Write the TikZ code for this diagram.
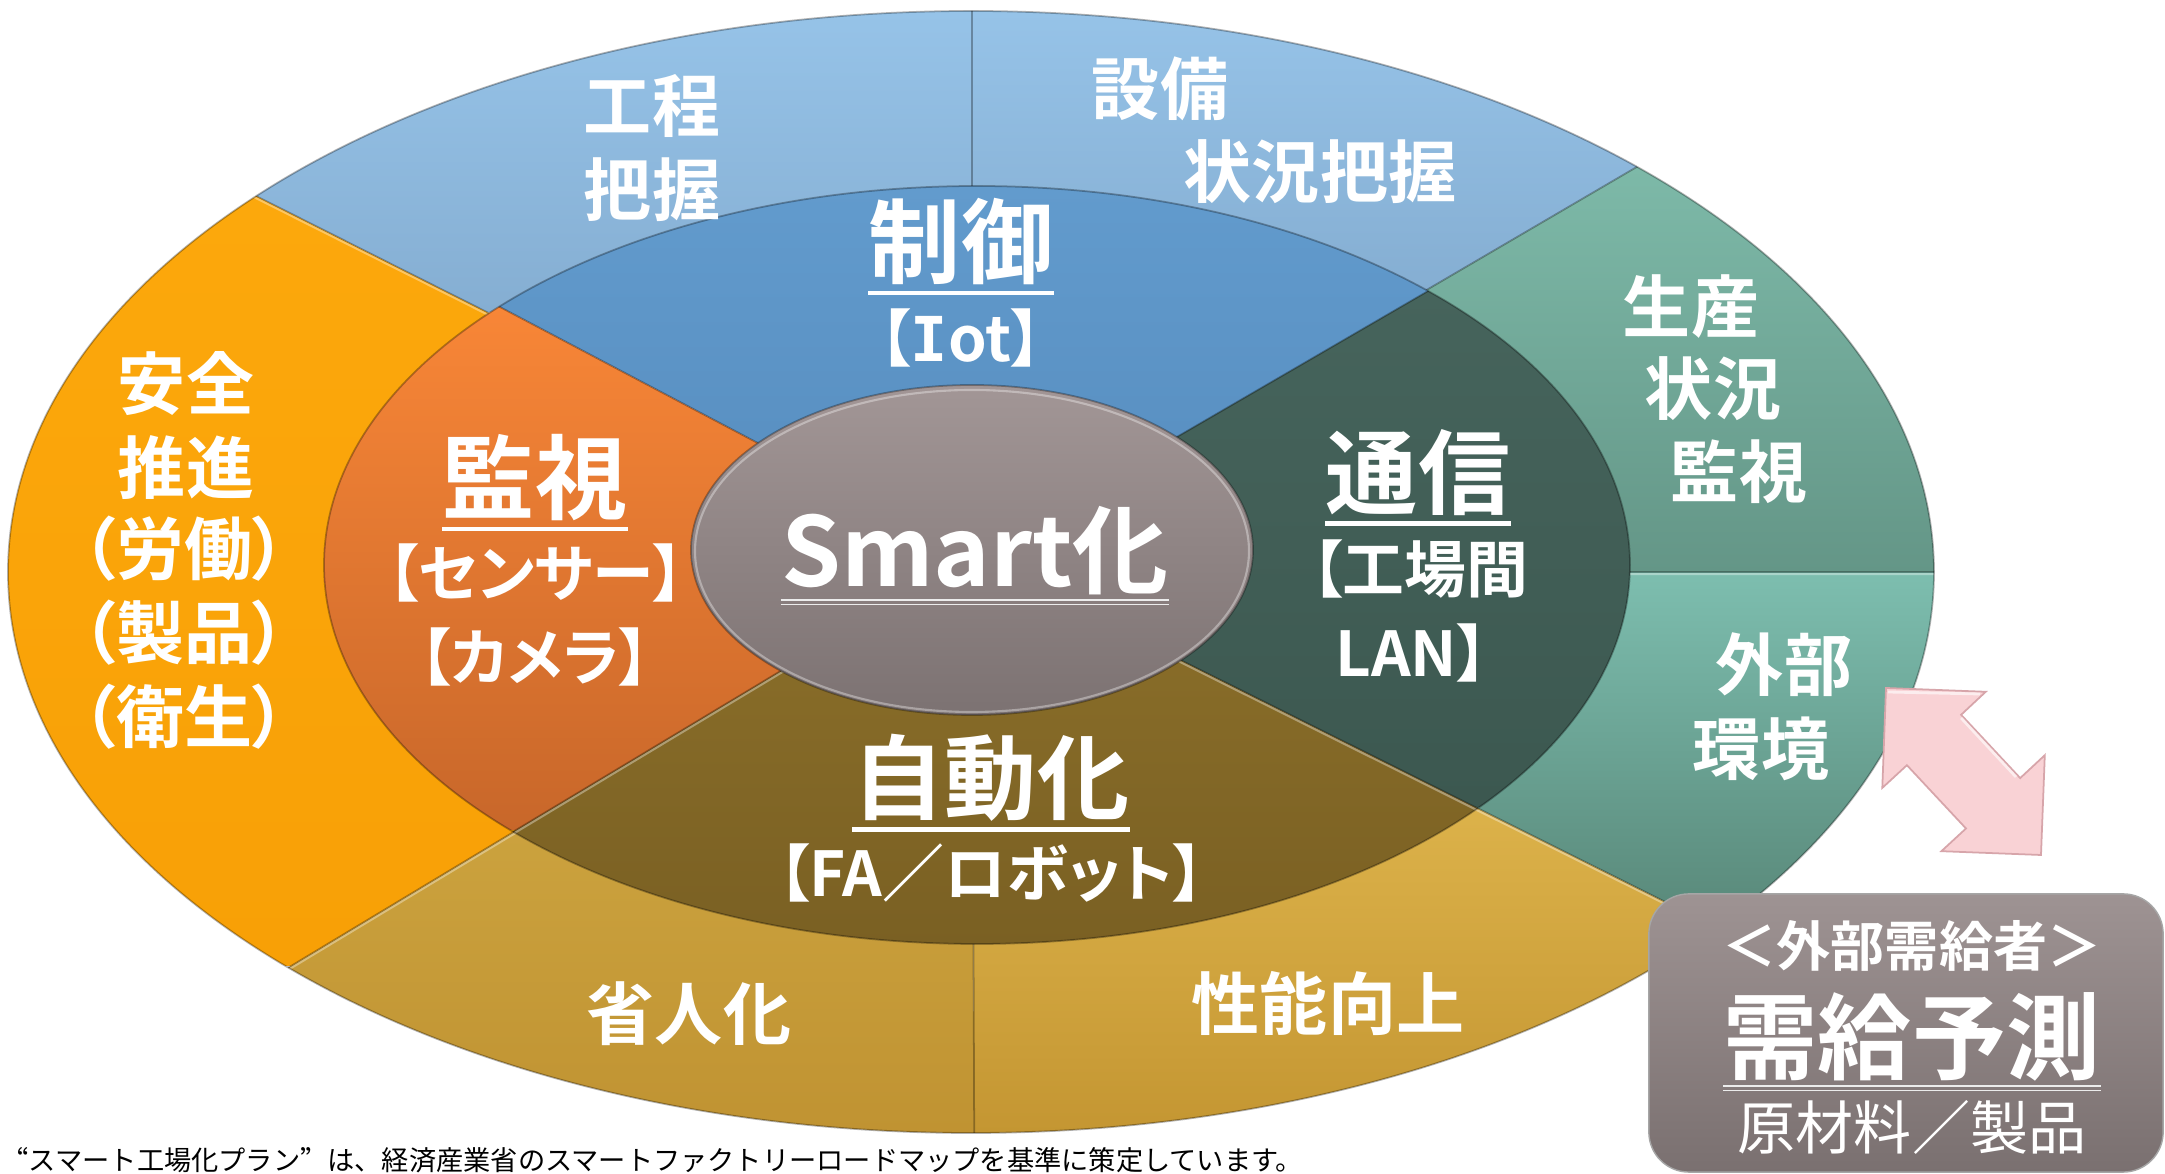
\documentclass[tikz,border=0pt]{standalone}
\usepackage{fontspec}
\newfontfamily\jp{Noto Sans CJK JP}[BoldFont={Noto Sans CJK JP Bold},RawFeature=+palt]
\newfontfamily\jpfw{Noto Sans CJK JP}[BoldFont={Noto Sans CJK JP Bold}]
\newfontfamily\jpnote{Noto Sans CJK JP}[RawFeature=+fwid]
\newfontfamily\serifI{DejaVu Sans Mono}[BoldFont={DejaVu Sans Mono Bold}]
\definecolor{lbTop}{RGB}{150,195,232}
\definecolor{lbBot}{RGB}{133,174,210}
\definecolor{tlTop}{RGB}{125,185,168}
\definecolor{tlBot}{RGB}{100,150,135}
\definecolor{teTop}{RGB}{125,190,175}
\definecolor{teBot}{RGB}{90,138,123}
\definecolor{gdTop}{RGB}{220,178,74}
\definecolor{gdBot}{RGB}{196,150,50}
\definecolor{gdbTop}{RGB}{203,162,62}
\definecolor{gdbBot}{RGB}{192,147,50}
\definecolor{orTop}{RGB}{252,168,12}
\definecolor{orBot}{RGB}{248,160,6}
\definecolor{bluTop}{RGB}{98,155,205}
\definecolor{bluBot}{RGB}{86,140,190}
\definecolor{dgTop}{RGB}{70,100,92}
\definecolor{dgBot}{RGB}{60,88,80}
\definecolor{brTop}{RGB}{140,112,42}
\definecolor{brBot}{RGB}{122,96,35}
\definecolor{mvTop}{RGB}{248,134,55}
\definecolor{mvBot}{RGB}{200,103,42}
\definecolor{smTop}{RGB}{162,150,150}
\definecolor{smBot}{RGB}{124,114,114}
\definecolor{bxTop}{RGB}{158,147,147}
\definecolor{bxBot}{RGB}{122,112,112}
\definecolor{pk}{RGB}{249,210,213}
\definecolor{pkEdge}{RGB}{215,165,170}
\newcommand\osector[5]{\begin{scope}\clip #1;\clip (971,572) ellipse [x radius=963, y radius=561];\shade[top color=#4,bottom color=#5] (-100,#2) rectangle (2300,#3);\end{scope}}
\newcommand\msector[5]{\begin{scope}\clip #1;\clip (977,565) ellipse [x radius=653, y radius=379];\shade[top color=#4,bottom color=#5] (-100,#2) rectangle (2300,#3);\end{scope}}
\begin{document}
\begin{tikzpicture}[x=0.01cm,y=-0.01cm,
  txt/.style={text=white, inner sep=0pt},
  ringtxt/.style={txt, font=\jp\bfseries\fontsize{19.35pt}{23pt}\selectfont},
  titletxt/.style={txt, font=\jp\bfseries\fontsize{26.2pt}{30pt}\selectfont},
  subtxt/.style={txt, font=\jp\bfseries\fontsize{17.6pt}{21pt}\selectfont},
  uline/.style={white, line width=1.4pt},
  dline/.style={white!85!gray, line width=0.55pt},
  edge/.style={draw=black, draw opacity=0.3, line width=0.5pt},
  hilite/.style={draw=white, draw opacity=0.35, line width=0.6pt}]
\useasboundingbox (0,0) rectangle (2165,1174);
\fill[white] (0,0) rectangle (2165,1174);
\coordinate (C) at (972,556);
\coordinate (oUL) at (-460,-164);
\coordinate (oUR) at (2298,-220);
\coordinate (oLR) at (2481,1309);
\coordinate (oLL) at (-390,1376);
\coordinate (mUL) at (-450,-194);
\coordinate (mUR) at (2361,-251);
\coordinate (mLR) at (2481,1309);
\coordinate (mLL) at (-396,1378);
% outer ring
\osector{(C) -- (oUL) -- (-460,-400) -- (972,-400) -- cycle}{11}{312}{lbTop}{lbBot}
\osector{(C) -- (972,-400) -- (2298,-400) -- (oUR) -- cycle}{11}{290}{lbTop}{lbBot}
\osector{(C) -- (oUR) -- (2600,-220) -- (2600,572) -- (1300,572) -- cycle}{168}{572}{tlTop}{tlBot}
\osector{(C) -- (1300,572) -- (2600,572) -- (2600,1309) -- (oLR) -- cycle}{572}{910}{teTop}{teBot}
\osector{(C) -- (oLR) -- (2481,1600) -- (976,1600) -- cycle}{807}{1133}{gdTop}{gdBot}
\osector{(C) -- (976,1600) -- (-390,1600) -- (oLL) -- cycle}{830}{1133}{gdbTop}{gdbBot}
\osector{(C) -- (oLL) -- (oUL) -- cycle}{196}{966}{orTop}{orBot}
\begin{scope}
\clip (971,572) ellipse [x radius=963, y radius=561];
\draw[edge] (C) -- (oUL) (C) -- (972,-400) (C) -- (oUR) (1300,572) -- (2600,572) (C) -- (oLR) (C) -- (976,1600) (C) -- (oLL);
\draw[hilite] ([yshift=-0.6pt]C) -- ([yshift=-0.6pt]oUL) ([yshift=-0.6pt]C) -- ([yshift=-0.6pt]oLL) ([yshift=-0.6pt]1300,572) -- ([yshift=-0.6pt]2600,572) ([yshift=-0.6pt]C) -- ([yshift=-0.6pt]oLR);
\end{scope}
\draw[edge] (971,572) ellipse [x radius=963, y radius=561];
% middle ring
\msector{(C) -- (mUL) -- (-460,-400) -- (2361,-400) -- (mUR) -- cycle}{186}{556}{bluTop}{bluBot}
\msector{(C) -- (mUR) -- (2600,-251) -- (2600,1309) -- (mLR) -- cycle}{287}{807}{dgTop}{dgBot}
\msector{(C) -- (mLR) -- (2481,1600) -- (-396,1600) -- (mLL) -- cycle}{556}{946}{brTop}{brBot}
\msector{(C) -- (mLL) -- (mUL) -- cycle}{306}{830}{mvTop}{mvBot}
\begin{scope}
\clip (977,565) ellipse [x radius=653, y radius=379];
\draw[edge] (C) -- (mUL) (C) -- (mUR) (C) -- (mLR) (C) -- (mLL);
\draw[hilite] ([yshift=-0.6pt]C) -- ([yshift=-0.6pt]mLL) ([yshift=-0.6pt]C) -- ([yshift=-0.6pt]mLR);
\end{scope}
\draw[edge] (977,565) ellipse [x radius=653, y radius=379];
% centre
\shade[top color=smTop, bottom color=smBot] (972,550) ellipse [x radius=281, y radius=165];
\draw[edge] (972,550) ellipse [x radius=281, y radius=165];
\draw[hilite] (972,551) ellipse [x radius=277, y radius=161];
% outer ring texts
\node[ringtxt] (o1a) at (652,106) {工程};
\node[ringtxt] (o1b) at (652,190) {把握};
\node[ringtxt] (o2a) at (1160,89) {設備};
\node[ringtxt] (o2b) at (1320,172) {状況把握};
\node[ringtxt] (o3a) at (1691,307) {生産};
\node[ringtxt] (o3b) at (1713,389) {状況};
\node[ringtxt] (o3c) at (1739,472) {監視};
\node[ringtxt] (o4a) at (1784,665) {外部};
\node[ringtxt] (o4b) at (1761,749) {環境};
\node[ringtxt] (o5) at (1328,1004) {性能向上};
\node[ringtxt] (o6) at (689,1014) {省人化};
\node[ringtxt] (o7a) at (186,384) {安全};
\node[ringtxt] (o7b) at (186,468) {推進};
\node[ringtxt] (o7c) at (184,549) {（労働）};
\node[ringtxt] (o7d) at (184,633) {（製品）};
\node[ringtxt] (o7e) at (184,717) {（衛生）};
% middle ring texts
\node[titletxt] (m1) at (961,242) {制御};
\node[titletxt] (m2) at (535,478) {監視};
\node[titletxt] (m3) at (1418,473) {通信};
\node[titletxt] (m4) at (991,778) {自動化};
\foreach \n in {m1,m2,m3,m4}{\draw[uline] ([yshift=-2pt]\n.south west) -- ([yshift=-2pt]\n.south east);}
\node[subtxt] (m1s) at (961,338) {【{\serifI\bfseries I}ot】};
\node[subtxt] (m2s) at (536,573) {【センサー】};
\node[subtxt] (m2t) at (535,657) {【カメラ】};
\node[subtxt] (m3s) at (1420,569) {【工場間};
\node[subtxt] (m3t) at (1412,653) {LAN】};
\node[subtxt] (m4s) at (991,873) {【FA／ロボット】};
\node[txt, font=\jp\bfseries\fontsize{27.3pt}{30pt}\selectfont] (sm) at (975,551) {Smart化};
\draw[dline] ([yshift=-1.2pt]sm.south west) -- ([yshift=-1.2pt]sm.south east);
\draw[dline] ([yshift=-2.4pt]sm.south west) -- ([yshift=-2.4pt]sm.south east);
% box
\node[draw=black!35, line width=0.4pt, rounded corners=0.4cm, minimum width=5.14cm, minimum height=2.78cm, top color=bxTop, bottom color=bxBot, inner sep=0pt] (box) at (1906,1033) {};
\node[txt, font=\jpfw\bfseries\fontsize{15.4pt}{18pt}\selectfont] (b1) at (1912,946) {＜外部需給者＞};
\node[txt, font=\jp\bfseries\fontsize{26.75pt}{30pt}\selectfont] (b2) at (1912,1037) {需給予測};
\draw[dline] ([yshift=-1.2pt]b2.south west) -- ([yshift=-1.2pt]b2.south east);
\draw[dline] ([yshift=-2.4pt]b2.south west) -- ([yshift=-2.4pt]b2.south east);
\node[txt, font=\jpfw\fontsize{16.5pt}{19pt}\selectfont] (b3) at (1912,1127) {原材料／製品};
% double block arrow between 外部環境 and the box
\filldraw[fill=pk, draw=pkEdge, line width=0.5pt, line join=miter]
  (1886,688) -- (1985.7,691.8) -- (1961.1,714.8) -- (2020.2,778.1) -- (2044.8,755.2)
  -- (2041,855) -- (1941.4,851.2) -- (1966.0,828.5) -- (1906.9,765.2) -- (1882.3,787.9) -- cycle;
\draw[white, opacity=0.6, line width=0.8pt] (1888,692) -- (1980,694) (1961.1,718) -- (2016,777);
% footnote
\node[anchor=west, inner sep=0pt, text=black, font=\jpnote\fontsize{7.74pt}{9pt}\selectfont] (note) at (1,1160) {“スマート工場化プラン”は、経済産業省のスマートファクトリーロードマップを基準に策定しています。};
\end{tikzpicture}
\end{document}
